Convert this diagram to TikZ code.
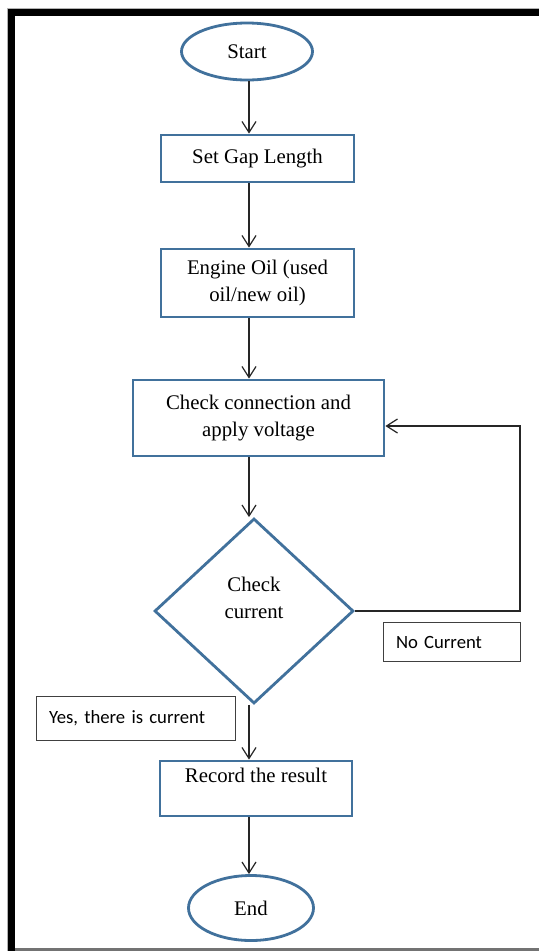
\documentclass[tikz,border=0pt]{standalone}
\usepackage{fontspec}
\setmainfont{Liberation Serif}
\newfontfamily\labelfont{Carlito}
\usetikzlibrary{shapes.geometric}
\usetikzlibrary{arrows.meta}

\definecolor{shapeblue}{RGB}{65,113,156}

\begin{document}
\begin{tikzpicture}[%
  x=1pt, y=-1pt,
  >={Straight Barb[length=11pt,width=14pt]},
  flow/.style={draw=shapeblue, line width=2.8pt, inner sep=0pt, align=center,
    font=\fontsize{20.8}{27}\selectfont},
  terminal/.style={flow, ellipse},
  process/.style={flow, rectangle},
  decision/.style={flow, diamond},
  note/.style={draw=black!75, line width=1.2pt, rectangle, inner xsep=12pt,
    inner ysep=0pt, align=left, font=\labelfont\fontsize{18.7}{22}\selectfont},
  link/.style={->, line width=1.2pt, black!85},
]

  \useasboundingbox (0,0) rectangle (539,951);
  \fill[white] (0,0) rectangle (539,951);

  % outer page frame
  \draw[black!30, line width=1pt] (7,951) -- (7,8) -- (539,8);
  \draw[black, line width=7.5pt] (11.5,951) -- (11.5,12.5) -- (539,12.5);
  \draw[black!55, line width=3pt] (15,949.5) -- (539,949.5);

  \coordinate (axis) at (249,0);
  \coordinate (loopc) at (520,0);

  \node[terminal, minimum width=131pt, minimum height=57pt] (start) at (247,51.5) {Start};
  \node[process, minimum width=193pt, minimum height=47pt] (gap) at (257.5,158.5) {Set Gap Length};
  \node[process, minimum width=193pt, minimum height=68pt] (oil) at (257.5,283) {Engine Oil (used\\oil/new oil)};
  \node[process, minimum width=251pt, minimum height=76pt] (conn) at (258.5,418) {Check connection and\\apply voltage};
  \node[decision, minimum width=199pt, minimum height=185pt] (check) at (254,611) {Check\\current\\\mbox{}};
  \node[process, minimum width=192pt, minimum height=55pt] (rec) at (256,788.5) {Record the result\\\mbox{}};
  \node[terminal, minimum width=125pt, minimum height=65pt] (end) at (251,908) {End};

  \node[note, minimum width=137pt, minimum height=39pt, text width=112pt] (nocur) at (452,642) {No Current};
  \node[note, minimum width=199pt, minimum height=44pt, text width=174pt] (yes) at (136,718.5) {Yes, there is current};

  \draw[link] (axis |- start.south) -- (axis |- gap.north);
  \draw[link] (axis |- gap.south) -- (axis |- oil.north);
  \draw[link] (axis |- oil.south) -- (axis |- conn.north);
  \draw[link] (axis |- conn.south) -- (axis |- check.north);
  \draw[link] (axis |- check.south) -- (axis |- rec.north);
  \draw[link] (axis |- rec.south) -- (axis |- end.north);

  \draw[link] (check.east) -| ([yshift=-8pt]loopc |- conn.east) -- ([yshift=-8pt]conn.east);

\end{tikzpicture}
\end{document}
